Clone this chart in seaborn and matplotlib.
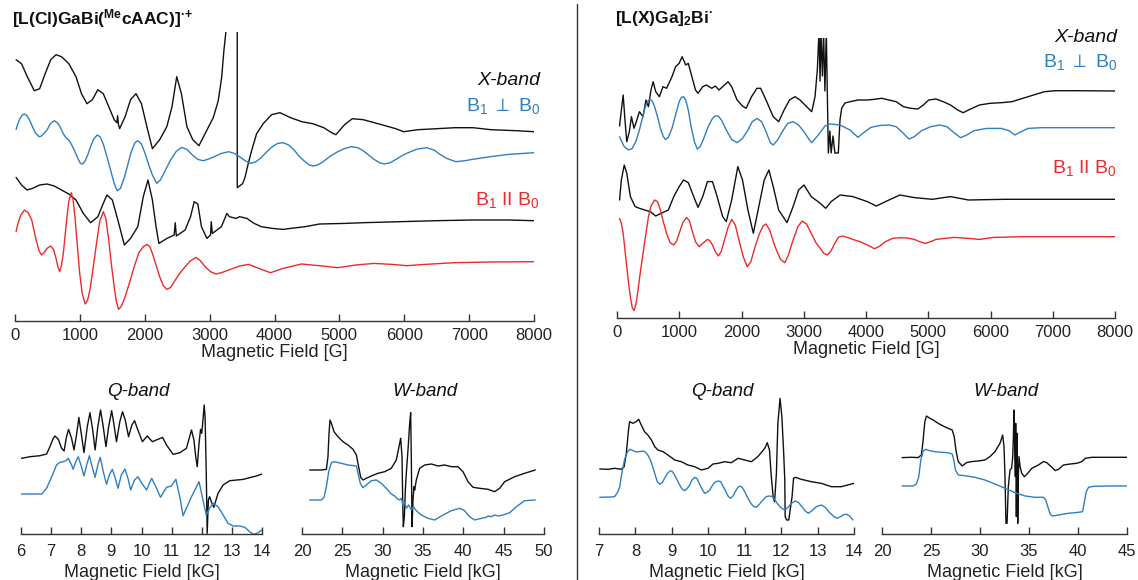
import numpy as np
import matplotlib
matplotlib.use("Agg")
import matplotlib.pyplot as plt
from matplotlib.lines import Line2D
import seaborn as sns

# ---------------- DATA ----------------
# X-band, [L(Cl)GaBi(MecAAC)]+ : field in G, intensity in arbitrary units
XL_PERP_EXP_G = [17, 100, 190, 297, 380, 465, 550, 633, 717, 830, 940, 1025, 1109, 1193, 1277, 1361, 1445, 1529,
                 1570, 1582, 1595, 1613, 1697, 1781, 1865, 1949, 2033, 2118, 2230, 2340, 2420, 2493, 2565, 2650,
                 2740, 2835, 2953, 3056, 3133, 3185, 3220, 3251, 3270, 3426, 3426, 3508, 3544, 3595, 3647, 3724,
                 3826, 3955, 4083, 4250, 4420, 4590, 4760, 4880, 4947, 5080, 5199, 5370, 5650, 5870, 5990, 6210,
                 6500, 6780, 7060, 7340, 7730, 8000]
XL_PERP_EXP_I = [72, 68, 55, 41, 43, 58, 72, 77, 75, 68, 55, 38, 28, 32, 42, 38, 25, 12,
                 9, 16, 7, 3, 15, 32, 38, 28, 5, -17, -8, 5, 25, 55, 38, 5,
                 -8, -14, 1, 14, 31, 54, 81, 100, 130, 130, -56, -52, -46, -32, -19, -2,
                 8, 17, 19, 14, 10, 8, 4, -1, -3, 7, 13, 12, 7, 3, 0, 2,
                 3, 4, 4, 2, 1, 0]

XL_PERP_SIM_G = [17, 45, 73, 112, 146, 185, 224, 269, 314, 370, 409, 448, 493, 549, 605, 650, 689, 728, 773, 818,
                 857, 913, 969, 1008, 1042, 1081, 1120, 1165, 1210, 1266, 1311, 1361, 1417, 1473, 1529, 1574, 1625,
                 1681, 1737, 1793, 1849, 1893, 1949, 2005, 2062, 2118, 2185, 2241, 2314, 2398, 2482, 2566, 2650,
                 2734, 2818, 2902, 2986, 3070, 3182, 3294, 3378, 3462, 3546, 3630, 3714, 3798, 3882, 3966, 4050,
                 4134, 4218, 4302, 4386, 4470, 4538, 4594, 4666, 4750, 4862, 4974, 5087, 5187, 5283, 5367, 5451,
                 5535, 5619, 5692, 5787, 5871, 5983, 6095, 6207, 6347, 6459, 6543, 6655, 6795, 6935, 7047, 7327,
                 7607, 8000]
XL_PERP_SIM_I = [23.3, 29.3, 33.7, 37.7, 38.7, 37, 32.7, 26, 20, 16, 16.7, 19.3, 22.7, 29.3, 32, 30, 26.7, 21, 16,
                 13.3, 10, 2.7, -5.7, -10.7, -11.3, -8.3, -2.3, 6, 13.3, 17.7, 16, 8.7, -4, -17.3, -30.7, -38,
                 -35.7, -25.7, -12.3, 1, 10, 12, 8.7, -0.7, -12.3, -22.3, -30.7, -27.3, -18, -7.3, 1, 5.3, 3.3,
                 -2.3, -6.7, -8, -6.3, -4, -0.7, 1, -0.7, -4, -8, -10.7, -9, -4.7, 1, 6, 9.3,
                 10, 7.7, 2.7, -4, -9, -12.3, -13.3, -12.3, -9, -3.3, 1, 4.3, 6, 5, 2, -2.3,
                 -6.7, -10, -11.3, -10, -6.7, -2.3, 1, 3.7, 5, 2.7, -1.3, -5.7, -9, -8, -6.7, -4,
                 -1.7, 0]

XL_PAR_EXP_G = [17, 101, 185, 269, 381, 493, 605, 717, 829, 941, 1053, 1165, 1277, 1361, 1417, 1501, 1585, 1686,
                1781, 1893, 1977, 2050, 2118, 2174, 2218, 2342, 2454, 2470, 2487, 2622, 2706, 2762, 2818, 2874,
                2958, 3014, 3025, 3042, 3182, 3266, 3305, 3406, 3462, 3574, 3686, 3798, 3966, 4134, 4246, 4470,
                4694, 5086, 5367, 5927, 6487, 7047, 7607, 8000]
XL_PAR_EXP_I = [43.3, 35.7, 30.7, 32.3, 35.7, 36.7, 34.7, 30.7, 26.7, 20.7, 7.3, -2, 4, 17.3, 25.7, 20.7, 0.7, -24.3,
                -17.7, -6, 24, 40.7, 20.7, -6, -22.7, -17.7, -14.3, -2, -15.3, -9.3, 4, 19, 16.7, -6,
                -17.7, -14.3, -1, -12.7, -6, 7.3, 4, 2.3, 4, 2.3, -2.7, -6, -7.7, -8.7, -7.7, -6,
                -3.3, -2.7, -2, -1, 0, 0.7, 0.7, 0]

XL_PAR_SIM_G = [17, 45, 90, 146, 202, 258, 325, 370, 409, 448, 493, 549, 594, 633, 661, 689, 717, 745, 773, 801,
                829, 868, 896, 924, 958, 997, 1036, 1081, 1120, 1154, 1193, 1249, 1305, 1361, 1400, 1445, 1490,
                1529, 1563, 1597, 1641, 1697, 1770, 1837, 1910, 1977, 2034, 2078, 2118, 2174, 2230, 2286, 2342,
                2398, 2454, 2538, 2622, 2706, 2790, 2857, 2930, 3014, 3098, 3182, 3294, 3462, 3602, 3798, 3938,
                4134, 4414, 4694, 4974, 5255, 5535, 5815, 6039, 6319, 6767, 7327, 8000]
XL_PAR_SIM_I = [30, 38.3, 46.7, 51.7, 49, 41.7, 21.7, 11, 6.7, 9, 13.3, 15.7, 12.3, 3.3, -5, -10, -3.3, 8.3, 26.7,
                45, 60, 69, 61.7, 45, 18.3, -11.7, -31.7, -42.3, -38.3, -28.3, -11.7, 15, 40, 50, 43.3, 21.7, -5,
                -25, -40, -47.7, -44.3, -35, -20, -5, 9, 15, 17.3, 15, 8.3, -3.3, -15, -24, -27.7,
                -25.7, -20, -11.7, -5, 1, 4.3, 1, -5, -10, -12.3, -11, -8.3, -4.3, -2.7, -7.7, -11,
                -6.7, -2.3, -4, -6, -3.3, -1.7, -2.7, -4, -2.7, -1, -0.3, 0]

# X-band, [L(X)Ga]2Bi
XR_PERP_EXP_G = [41, 70, 99, 128, 157, 198, 232, 273, 302, 360, 418, 465, 505, 546, 581, 622, 680, 738, 796, 883,
                 941, 999, 1046, 1104, 1145, 1203, 1261, 1301, 1377, 1435, 1522, 1580, 1638, 1697, 1784, 1842,
                 1929, 2016, 2074, 2161, 2248, 2307, 2394, 2510, 2597, 2684, 2771, 2859, 2940, 3047, 3128, 3181,
                 3218, 3245, 3262, 3275, 3300, 3318, 3340, 3362, 3395, 3420, 3440, 3470, 3500, 3555, 3582, 3610,
                 3663, 3743, 3871, 4021, 4137, 4253, 4369, 4485, 4602, 4718, 4834, 4921, 5008, 5124, 5241, 5357,
                 5473, 5560, 5647, 5822, 5996, 6170, 6345, 6519, 6693, 6867, 7042, 7390, 8000]
XR_PERP_EXP_I = [-35, -19, -4, -29, -50.7, -40.7, -25.7, -37.3, -32.3, -20.7, -25.7, -9, -15.7, 1, 9.3, -0.7, -5.7,
                 4.3, 2.7, 14.3, 24.3, 27.7, 34.3, 26, 27.7, 14.3, 1, -2.3, 4.3, 6, 2.7, 5, 1, 4.3, 9.3, 4.3,
                 -9, -15, -17.3, -5.7, 2.7, 2.7, -9, -25.7, -30.7, -19, -9, -5.7, -9, -15.7, -20.7, -5.7,
                 21, 60, 10, 60, 15, 60, 0, 60, -62, -40, -62, -45, -62, -62, -29, -17,
                 -12, -10.7, -9, -9, -8.3, -7.3, -9, -10.7, -15.7, -17.3, -18, -14, -9, -8, -10.7, -14,
                 -19, -21.7, -19, -14, -12.3, -11.7, -10.7, -7.3, -4, -0.7, 0.3, 0.3, 0]

XR_PERP_SIM_G = [41, 70, 116, 186, 244, 302, 360, 407, 447, 488, 523, 564, 604, 651, 697, 744, 779, 825, 883, 941,
                 999, 1034, 1069, 1104, 1145, 1191, 1243, 1290, 1336, 1394, 1464, 1534, 1580, 1627, 1685, 1755,
                 1842, 1929, 2016, 2103, 2173, 2248, 2324, 2394, 2463, 2510, 2580, 2655, 2742, 2829, 2917, 3004,
                 3091, 3128, 3234, 3341, 3422, 3582, 3743, 3871, 3962, 4079, 4224, 4369, 4485, 4602, 4689, 4776,
                 4892, 5037, 5183, 5299, 5415, 5520, 5618, 5734, 5938, 6170, 6298, 6391, 6490, 6606, 6809, 8000]
XR_PERP_SIM_I = [-9, -13, -19, -22.3, -20.7, -14, -2.3, 9.3, 19.3, 26, 28.3, 27, 21, 11, -0.7, -9, -11.7, -9.7,
                 -0.7, 12.7, 26, 30.3, 31, 27.7, 17.7, 1, -14, -21.3, -19, -10.7, 1, 9.3, 11.7, 11.7, 7, -2.3,
                 -11.7, -15, -10.7, -2.3, 6, 9.3, 6, -4, -15, -17.3, -12.3, -4, 4.3, 6, 2.7, -4,
                 -12.3, -15, -7.3, 1.7, 3.7, 2.7, -2.3, -9.6, -5, 0.3, 2.3, 2.7, 1, -5.7, -11.3, -9,
                 -3, 1, 2.7, 1, -5, -10, -7.3, -3, -0.7, -0.7, -3, -7.3, -4, -0.7, 0, 0]

XR_PAR_EXP_G = [41, 70, 116, 157, 215, 291, 360, 447, 535, 622, 709, 825, 912, 999, 1069, 1145, 1232, 1301, 1377,
                1453, 1534, 1609, 1697, 1755, 1842, 1941, 2016, 2103, 2190, 2278, 2365, 2440, 2510, 2597, 2731,
                2829, 2917, 3004, 3120, 3265, 3352, 3440, 3585, 3788, 4021, 4166, 4369, 4543, 4776, 5066, 5357,
                5647, 6228, 6809, 8000]
XR_PAR_EXP_I = [-0.7, 19.3, 34.3, 26, 2.7, -7.3, -9, -10.7, -12.3, -16.7, -14, -10.7, 2.7, 12.7, 19.3, 16.7, 2.7,
                -8, 2.7, 17.7, 17.7, 2.7, -17.3, -22.3, -0.7, 32.7, 19.3, -10.7, -34, -7.3, 19.3, 29.3, 12.7,
                -10.7, -23.3, -7.3, 9.3, 14.3, 2.7, -4, -9, -2.3, 4.3, 2.7, -2.3, -6.7, -0.7, 4.3, 1.7, 0,
                2.7, -0.7, 0, 0, 0]

XR_PAR_SIM_G = [41, 70, 99, 128, 157, 186, 215, 244, 273, 302, 331, 372, 418, 465, 505, 546, 604, 651, 697, 744,
                796, 854, 912, 959, 999, 1057, 1116, 1162, 1203, 1261, 1319, 1377, 1453, 1493, 1534, 1580, 1627,
                1673, 1726, 1784, 1842, 1900, 1958, 2028, 2092, 2150, 2219, 2289, 2347, 2394, 2452, 2539, 2626,
                2696, 2754, 2829, 2905, 2975, 3045, 3120, 3196, 3265, 3323, 3381, 3440, 3498, 3556, 3614, 3701,
                3788, 3904, 4021, 4137, 4224, 4311, 4427, 4543, 4660, 4776, 4863, 4950, 5037, 5124, 5415, 5647,
                5822, 6054, 6519, 8000]
XR_PAR_SIM_I = [18.3, 13.3, 3.3, -13.3, -30, -46.7, -60, -70.7, -74, -68.3, -56.7, -36.7, -16.7, 3.3, 20, 30.7,
                36.7, 35, 26.7, 15, 3.3, -6, -8.3, -4, 3.3, 14, 19.3, 16, 6.7, -5, -10, -6.7, -2.7, -4, -8.3, -15,
                -19.3, -15, -3.3, 9.3, 17.3, 11.7, -3.3, -20, -30, -25, -10, 3.3, 10.7, 12.7, 6.7, -10, -22.7,
                -26, -18.3, -3.3, 10, 15.7, 12.7, 3.3, -6, -11.7, -16.7, -18.3, -14, -6.7, -0.7, 0.7, -0.7,
                -2.7, -5, -8.3, -12, -9.3, -5, -1.7, -1, -1.3, -2.7, -5, -6.7, -5, -2.7, -0.7, -1.7,
                -2.7, -0.7, 0, 0]

# Q-band, left compound (kG)
QL_EXP_KG = [6.00, 6.30, 6.63, 6.85, 6.96, 7.07, 7.13, 7.24, 7.35, 7.43, 7.51, 7.58, 7.68, 7.76, 7.85, 7.92, 8.00,
             8.09, 8.20, 8.29, 8.38, 8.46, 8.55, 8.64, 8.73, 8.82, 8.91, 9.01, 9.08, 9.17, 9.28, 9.37, 9.46, 9.57,
             9.68, 9.77, 9.86, 10.03, 10.19, 10.36, 10.54, 10.70, 10.83, 11.05, 11.27, 11.49, 11.66, 11.74, 11.80,
             11.85, 11.91, 11.96, 12.00, 12.04, 12.08, 12.11, 12.15, 12.18, 12.22, 12.26, 12.32, 12.40, 12.54,
             12.71, 12.93, 13.37, 13.81, 14.00]
QL_EXP_I = [-0.7, 1, 2, 3.7, 11, 19.3, 21.7, 18.3, 9.3, 6.7, 21, 28.3, 19.3, 7.7, 24.3, 40.3, 24.3, 5, 31, 45, 27.7,
            7.7, 31, 47.7, 31, 11, 31, 47, 34.3, 16, 36, 46, 37.7, 21, 32.7, 37, 29.3, 16, 21.7, 16, 18.3, 20.3,
            12.7, 3.3, 5, 9.3, 27.7, 17.7, 1, -9, 14.3, 28.3, 24.3, 37.7, 52.7, 41, -15.7, -75.7, -42.3, -39,
            -44, -49.7, -35.7, -27.3, -23, -21.7, -18.3, -16.3]
QL_SIM_KG = [6.00, 6.69, 6.85, 7.02, 7.18, 7.29, 7.40, 7.49, 7.57, 7.68, 7.73, 7.82, 7.90, 7.99, 8.09, 8.18, 8.27,
             8.36, 8.46, 8.55, 8.63, 8.73, 8.84, 8.93, 9.03, 9.13, 9.22, 9.33, 9.45, 9.56, 9.64, 9.77, 9.88, 10.01,
             10.17, 10.26, 10.34, 10.50, 10.63, 10.83, 10.99, 11.14, 11.27, 11.38, 11.66, 11.91, 12.04, 12.15,
             12.26, 12.38, 12.54, 12.71, 12.87, 13.04, 13.26, 13.43, 13.59, 13.72, 13.87, 14.00]
QL_SIM_I = [0, 0, 5.7, 17.3, 29, 31.7, 32.3, 33.3, 35.7, 29, 24.7, 32.3, 37.3, 29, 18, 29, 38.3, 27.3, 16.7, 29,
            36.7, 22.3, 9.7, 19, 24.7, 15.7, 5.7, 19, 25, 14.7, 4, 14, 17.3, 10.7, 4, 10.7, 15.7, 5.7, -3.3, 6.7,
            8, 14.7, -2.7, -21.7, -2.7, 12.3, -6, -21, -14.3, -9.3, -12.7, -21, -29.3, -32, -32, -33.3, -37.7,
            -40.3, -38.7, -36]

# W-band, left compound (kG)
WL_EXP_KG = [20.95, 22.40, 23.02, 23.22, 23.35, 23.47, 23.64, 23.97, 24.46, 25.08, 25.70, 26.32, 26.74, 27.02,
             27.27, 27.56, 27.97, 28.59, 29.42, 30.25, 31.07, 31.69, 32.11, 32.23, 32.40, 32.48, 32.56, 32.69,
             32.81, 32.93, 33.14, 33.35, 33.47, 33.55, 33.64, 33.76, 33.88, 33.97, 34.17, 34.59, 35.21, 36.03,
             36.86, 37.69, 38.51, 39.34, 39.96, 40.58, 41.20, 42.02, 43.06, 43.88, 44.50, 45.12, 46.36, 47.60, 48.92]
WL_EXP_I = [0, 0, 0.7, 13.3, 36.7, 50, 46.7, 38.3, 33.3, 28.3, 25, 20.7, 15, 3.3, -7.3, -10, -8.3, -6, -3.3, -1.7,
            1.7, 10, 26.7, 31.7, 13.3, -30, -56.7, -46.7, -20, -3.3, 20, 46.7, 57.3, 13.3, -56.7, -30, -16.7, -20,
            -10, 1.7, 5, 6, 4, 5, 3.3, 3.3, -1.7, -11.7, -17.3, -18.3, -19.3, -21.7, -18.3, -11.7, -6.7, -3.3, 0]
WL_SIM_KG = [20.95, 22.40, 22.73, 23.02, 23.31, 23.64, 23.97, 24.88, 25.70, 26.74, 26.94, 27.23, 27.56, 27.97,
             28.59, 29.21, 29.83, 30.45, 31.07, 31.49, 31.90, 32.11, 32.31, 32.52, 32.73, 32.93, 33.22, 33.55,
             33.80, 34.17, 34.79, 35.62, 36.45, 37.27, 38.51, 39.54, 40.16, 40.78, 41.40, 42.23, 42.85, 43.06,
             43.47, 43.88, 44.30, 44.92, 45.74, 46.57, 47.60, 48.92]
WL_SIM_I = [0, 0, 2.7, 13.3, 28.3, 37.3, 38.3, 36.7, 35, 34, 26.7, 16.7, 12.3, 15, 19.3, 20, 16.7, 11.7, 6, 4, 0.7,
            0, 1.7, -5, -2.7, -8.3, -5, -10, -6.7, -10.7, -15, -18.3, -20, -16, -10.7, -8.3, -10.7, -16.7, -20,
            -18.3, -17.3, -16, -16.7, -15, -16, -15, -12.7, -6.7, -0.7, 0]

# Q-band, right compound (kG)
QR_EXP_KG = [7.02, 7.25, 7.43, 7.61, 7.69, 7.75, 7.81, 7.84, 7.93, 8.02, 8.09, 8.16, 8.25, 8.34, 8.44, 8.53, 8.62,
             8.76, 8.89, 9.08, 9.26, 9.44, 9.63, 9.81, 9.99, 10.13, 10.27, 10.45, 10.63, 10.82, 11.00, 11.18, 11.36,
             11.55, 11.62, 11.68, 11.73, 11.78, 11.82, 11.87, 11.91, 11.97, 12.02, 12.07, 12.10, 12.11, 12.15,
             12.21, 12.26, 12.30, 12.34, 12.39, 12.55, 12.83, 13.10, 13.38, 13.65, 14.00]
QR_EXP_I = [0, -0.3, 0.7, -0.3, 2.3, 15.7, 39, 47.3, 45.7, 47.3, 49.7, 44, 37.3, 34, 29, 22.3, 19, 17.3, 14, 9, 7.3,
            4, 2.3, -1, 0.7, 5, 5.7, 7.3, 6.3, 10.7, 9, 7.3, 12.3, 20.7, 26.3, 19, -7.7, -27.7, -32.7, -4.3, 45.7,
            70.7, 52.3, 15.7, -11, -47.7, -51, -51, -37.7, -27.7, -9.3, -8.3, -10.3, -12.7, -14.3, -17.7, -17.7,
            -14.3]
QR_SIM_KG = [7.02, 7.34, 7.43, 7.52, 7.57, 7.61, 7.66, 7.70, 7.75, 7.80, 7.86, 7.93, 8.02, 8.12, 8.21, 8.27, 8.34,
             8.41, 8.48, 8.55, 8.60, 8.67, 8.74, 8.80, 8.88, 8.95, 9.00, 9.06, 9.12, 9.20, 9.28, 9.35, 9.42, 9.49,
             9.55, 9.63, 9.69, 9.76, 9.83, 9.90, 9.97, 10.04, 10.12, 10.19, 10.27, 10.34, 10.40, 10.47, 10.54,
             10.61, 10.68, 10.74, 10.81, 10.87, 10.93, 11.00, 11.09, 11.18, 11.25, 11.32, 11.41, 11.50, 11.59,
             11.68, 11.76, 11.82, 11.89, 11.99, 12.10, 12.19, 12.28, 12.39, 12.48, 12.57, 12.66, 12.75, 12.85,
             12.97, 13.10, 13.21, 13.33, 13.45, 13.54, 13.63, 13.72, 13.80, 13.88, 13.97]
QR_SIM_I = [0, 0.3, 0.7, 5.7, 10.7, 20.7, 30, 37.3, 43, 46.3, 48, 46.7, 45.3, 45.7, 46.3, 45.3, 42.3, 37.3, 30,
            21.3, 15.7, 13, 14.7, 19, 24, 26.3, 26.3, 23.3, 19, 13.3, 8.3, 6.7, 8.7, 12.3, 17.3, 20, 18.7,
            13.3, 8, 4, 5, 7.3, 12.3, 15.3, 16.3, 15.7, 11.3, 6.7, 1.3, -1, 1.3, 5.7, 9.7, 11.3, 10, 5.7,
            -1, -6.7, -9.3, -10, -6.7, -2.7, 0.7, 1.3, 0.7, -2, -6, -10.3, -12.7, -10, -6, -3.7, -5.3,
            -9.3, -13.7, -16, -13.3, -9.3, -7.7, -10, -15.3, -19.3, -21, -19.3, -17.3, -17, -18.7, -22.7]

# W-band, right compound (kG)
WR_EXP_KG = [22.05, 23.00, 23.68, 24.02, 24.20, 24.37, 24.54, 24.88, 25.22, 25.73, 26.24, 26.75, 27.16, 27.37,
             27.54, 27.78, 28.19, 28.63, 29.14, 29.82, 30.50, 31.02, 31.53, 32.04, 32.31, 32.45, 32.55, 32.65,
             32.76, 32.89, 33.06, 33.23, 33.34, 33.40, 33.47, 33.54, 33.61, 33.64, 33.71, 33.78, 33.85, 33.92,
             33.98, 34.09, 34.26, 34.53, 34.87, 35.28, 35.96, 36.47, 36.81, 37.33, 37.67, 38.01, 38.52, 39.20,
             39.88, 40.40, 40.74, 41.42, 43.12, 45.00]
WR_EXP_I = [-0.3, 0, -0.3, 2.3, 17.3, 35.7, 41.3, 39, 37.3, 34, 31.3, 29, 27.3, 20.7, 7.3, -4.3, -8.7, -5.3, -4.3,
            -3.7, -2.7, 0.7, 5.7, 14, 22.3, 10.7, -19.3, -66, -66, -29.3, -12.7, -11, 0.7, 17.3, 47.3, 17.3,
            -19.3, 34, -59.3, 24, -66, -16, 0.7, -9.3, -16, -19.3, -16, -11, -7.7, -4.3, -5.3, -10, -13.3, -12,
            -7.7, -6.7, -6, -4.3, -1, 0, 0, 0]
WR_SIM_KG = [22.05, 23.17, 23.51, 23.75, 23.96, 24.20, 24.43, 24.88, 25.39, 26.07, 26.75, 27.16, 27.33, 27.50,
             27.78, 28.46, 29.48, 30.50, 31.53, 32.55, 33.57, 34.60, 35.62, 36.47, 36.71, 36.92, 37.16, 37.39,
             38.01, 39.03, 40.05, 40.46, 40.63, 40.84, 41.08, 41.59, 43.12, 45.00]
WR_SIM_I = [0, 0, 2, 9.3, 26, 35, 36.7, 35.3, 34.3, 33.7, 33.3, 32, 26, 16, 11, 10.3, 8.7, 6, 2, -2.3, -6.7, -10,
            -11.3, -11.3, -14, -20.7, -28, -30, -29, -27.3, -26.3, -25.7, -17.3, -5.7, -1.3, -0.3, 0, 0]

X_TICKS = [0, 1000, 2000, 3000, 4000, 5000, 6000, 7000, 8000]
QL_TICKS = [6, 7, 8, 9, 10, 11, 12, 13, 14]
WL_TICKS = [20, 25, 30, 35, 40, 45, 50]
QR_TICKS = [7, 8, 9, 10, 11, 12, 13, 14]
WR_TICKS = [20, 25, 30, 35, 40, 45]

TITLE_LEFT = "$\\mathbf{[L(Cl)GaBi(^{Me}cAAC)]^{\u00b7{+}}}$"
TITLE_RIGHT = "$\\mathbf{[L(X)Ga]_{2}Bi^{\u00b7}}$"
LBL_BAND = "X-band"
LBL_PERP = r"B$_1$ $\perp$ B$_0$"
LBL_PAR = r"B$_1$ II B$_0$"
XLAB_G = "Magnetic Field [G]"
XLAB_KG = "Magnetic Field [kG]"

# ---------------- STYLE ----------------
sns.set_theme(style="white")
plt.rcParams["font.family"] = ["Liberation Sans", "DejaVu Sans"]
plt.rcParams["mathtext.fontset"] = "custom"
plt.rcParams["mathtext.rm"] = "Liberation Sans"
plt.rcParams["mathtext.it"] = "Liberation Sans:italic"
plt.rcParams["mathtext.bf"] = "Liberation Sans:bold"
plt.rcParams["mathtext.fallback"] = "stixsans"

BLACK = "#111111"
BLUE = "#2f7fc4"
RED = "#ee2a2a"
AX_COL = "#333333"

W, H = 1138, 580
fig = plt.figure(figsize=(W / 100, H / 100), dpi=100)


def make_ax(x0, x1, ytop, ybot, xlim, ticks, xlabel, pad, labelpad):
    ax = fig.add_axes([x0 / W, 1 - ybot / H, (x1 - x0) / W, (ybot - ytop) / H])
    ax.set_xlim(*xlim)
    ax.set_ylim(0, ybot - ytop)
    for s in ["left", "top", "right"]:
        ax.spines[s].set_visible(False)
    ax.spines["bottom"].set_color(AX_COL)
    ax.spines["bottom"].set_linewidth(1.0)
    ax.set_xticks(ticks)
    ax.set_yticks([])
    ax.tick_params(axis="x", direction="in", length=5, width=1.0, color=AX_COL,
                   labelsize=12, pad=pad, labelcolor="#222222", bottom=True)
    ax.set_xlabel(xlabel, fontsize=13, labelpad=labelpad, color="#222222")
    ax.patch.set_alpha(0)
    ax.grid(False)
    return ax


def trace(ax, xs, ys, base, color, lw):
    sns.lineplot(x=np.asarray(xs, float), y=np.asarray(ys, float) + base, ax=ax, color=color,
                 linewidth=lw, sort=False, estimator=None, legend=False)


def ftext(x, y, s, **kw):
    fig.text(x / W, 1 - y / H, s, **kw)


# ---------------- TOP LEFT ----------------
axTL = make_ax(15, 534, 32, 321, (0, 8000), X_TICKS, XLAB_G, 5, 1)
trace(axTL, XL_PERP_EXP_G, XL_PERP_EXP_I, 189.3, BLACK, 1.0)
trace(axTL, XL_PERP_SIM_G, XL_PERP_SIM_I, 168.3, BLUE, 1.0)
trace(axTL, XL_PAR_EXP_G, XL_PAR_EXP_I, 100.3, BLACK, 1.0)
trace(axTL, XL_PAR_SIM_G, XL_PAR_SIM_I, 59.3, RED, 1.0)

# ---------------- TOP RIGHT ----------------
axTR = make_ax(617, 1115, 38, 318, (0, 8000), X_TICKS, XLAB_G, 5, 1)
trace(axTR, XR_PERP_EXP_G, XR_PERP_EXP_I, 227.0, BLACK, 1.0)
trace(axTR, XR_PERP_SIM_G, XR_PERP_SIM_I, 190.3, BLUE, 1.0)
trace(axTR, XR_PAR_EXP_G, XR_PAR_EXP_I, 118.7, BLACK, 1.0)
trace(axTR, XR_PAR_SIM_G, XR_PAR_SIM_I, 81.3, RED, 1.0)

# ---------------- BOTTOM ----------------
axQL = make_ax(21, 262, 395, 534, (6, 14), QL_TICKS, XLAB_KG, 7, 4)
trace(axQL, QL_EXP_KG, QL_EXP_I, 76.3, BLACK, 1.0)
trace(axQL, QL_SIM_KG, QL_SIM_I, 40.0, BLUE, 1.0)

axWL = make_ax(302, 544, 395, 534, (20, 50), WL_TICKS, XLAB_KG, 7, 4)
trace(axWL, WL_EXP_KG, WL_EXP_I, 64.0, BLACK, 1.0)
trace(axWL, WL_SIM_KG, WL_SIM_I, 34.0, BLUE, 1.0)

axQR = make_ax(599, 854, 395, 534, (7, 14), QR_TICKS, XLAB_KG, 7, 4)
trace(axQR, QR_EXP_KG, QR_EXP_I, 65.0, BLACK, 1.0)
trace(axQR, QR_SIM_KG, QR_SIM_I, 36.7, BLUE, 1.0)

axWR = make_ax(882, 1127, 395, 534, (20, 45), WR_TICKS, XLAB_KG, 7, 4)
trace(axWR, WR_EXP_KG, WR_EXP_I, 76.7, BLACK, 1.0)
trace(axWR, WR_SIM_KG, WR_SIM_I, 48.0, BLUE, 1.0)

# ---------------- TEXT ----------------
ftext(12, 19, TITLE_LEFT, ha="left", va="center", fontsize=12.5, color=BLACK)
ftext(615, 19, TITLE_RIGHT, ha="left", va="center", fontsize=12.5, color=BLACK)

ftext(540, 80, LBL_BAND, ha="right", va="center", fontsize=14, style="italic", color=BLACK)
ftext(540, 106, LBL_PERP, ha="right", va="center", fontsize=14, color=BLUE)
ftext(540, 200, LBL_PAR, ha="right", va="center", fontsize=14, color=RED)

ftext(1117, 37, LBL_BAND, ha="right", va="center", fontsize=14, style="italic", color=BLACK)
ftext(1117, 62, LBL_PERP, ha="right", va="center", fontsize=14, color=BLUE)
ftext(1117, 168, LBL_PAR, ha="right", va="center", fontsize=14, color=RED)

ftext(138, 391, "Q-band", ha="center", va="center", fontsize=13.5, style="italic", color=BLACK)
ftext(425, 391, "W-band", ha="center", va="center", fontsize=13.5, style="italic", color=BLACK)
ftext(722, 391, "Q-band", ha="center", va="center", fontsize=13.5, style="italic", color=BLACK)
ftext(1006, 391, "W-band", ha="center", va="center", fontsize=13.5, style="italic", color=BLACK)

# separator
fig.add_artist(Line2D([577 / W, 577 / W], [1 - 4 / H, 0], color="#333333", linewidth=1.0))

fig.savefig("out.png", dpi=100)
